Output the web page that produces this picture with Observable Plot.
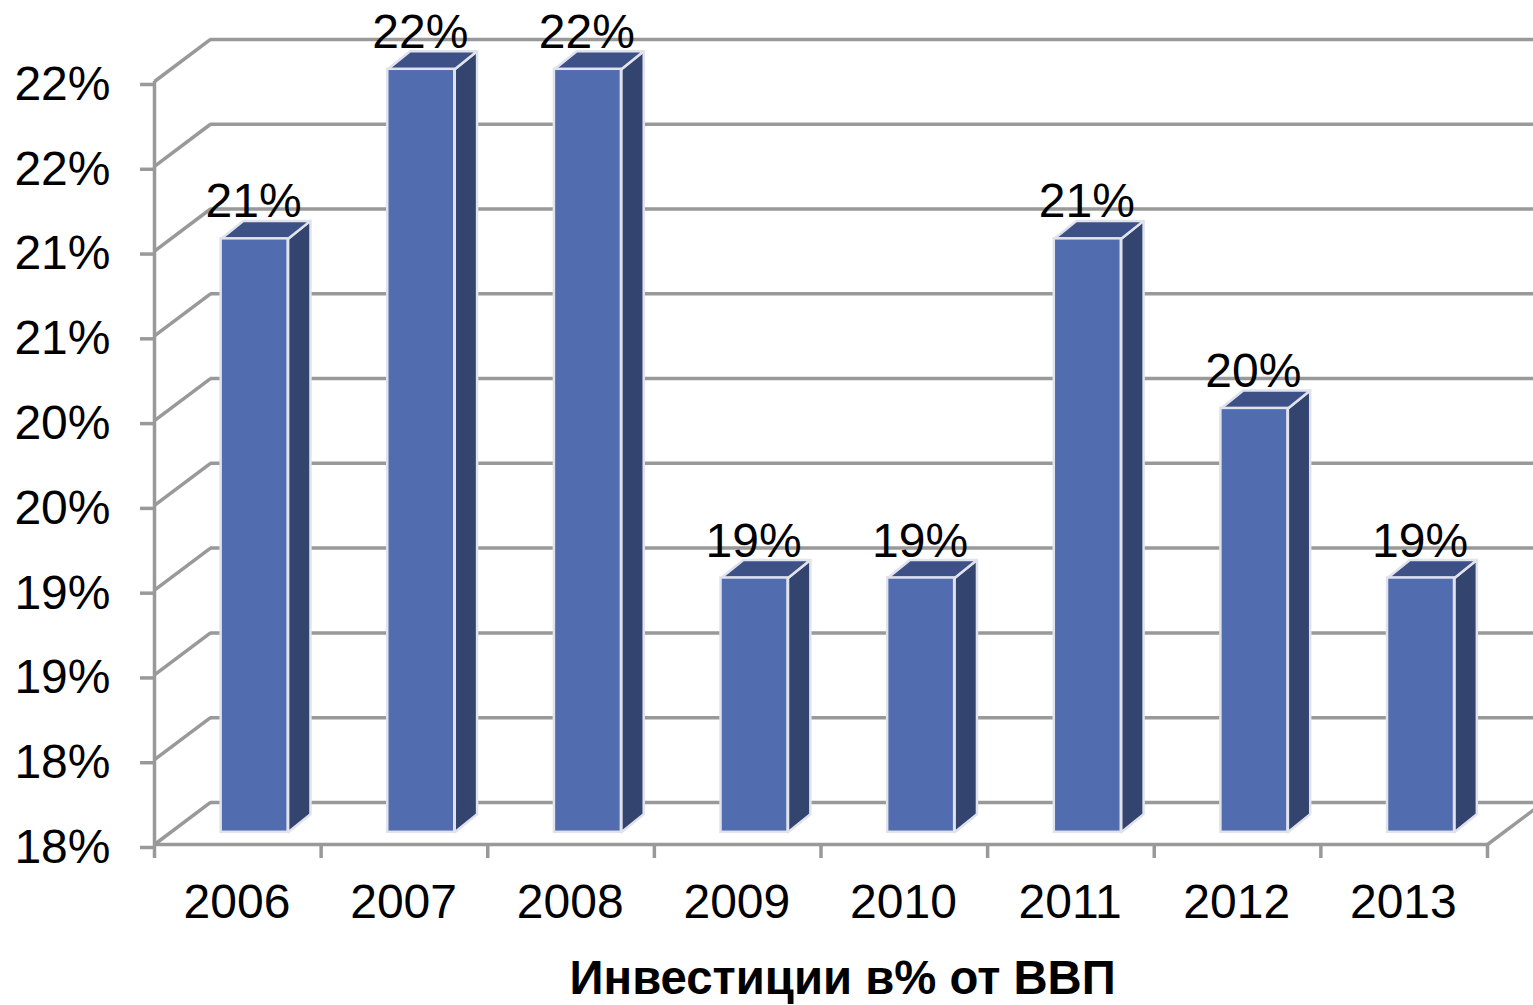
<!DOCTYPE html>
<html lang="ru">
<head>
<meta charset="utf-8">
<title>Инвестиции в% от ВВП</title>
<script src="https://cdn.jsdelivr.net/npm/d3@7"></script>
<script src="https://cdn.jsdelivr.net/npm/@observablehq/plot@0.6"></script>
<style>
  html, body { margin: 0; padding: 0; background: #fff; overflow: hidden; }
  svg { display: block; }
</style>
</head>
<body>
<div id="chart"></div>
<script>
const years = ["2006","2007","2008","2009","2010","2011","2012","2013"];
const values = [21, 22, 22, 19, 19, 21, 20, 19];
const valueLabels = ["21%","22%","22%","19%","19%","21%","20%","19%"];
const yTicks = [17.5, 18, 18.5, 19, 19.5, 20, 20.5, 21, 21.5, 22];
const yTickLabels = ["18%","18%","19%","19%","20%","20%","21%","21%","22%","22%"];
const axisTitle = "Инвестиции в% от ВВП";

const yBase = 17.5;
// Pseudo-3D depth, in data units of the two scales
const wallDX = 0.336, wallDY = 0.248;
const barStart = 0.4, barWidth = 0.402, barLift = 0.072, sideDX = 0.134, sideDY = 0.106;

const bars = years.map((year, i) => ({
  i, year, value: values[i], label: valueLabels[i],
  x1: i + barStart, x2: i + barStart + barWidth,
  y1: yBase + barLift, y2: values[i] + barLift
}));
const faces = bars.flatMap(b => [
  [["side", b.i], [b.x2, b.y1], [b.x2 + sideDX, b.y1 + sideDY], [b.x2 + sideDX, b.y2 + sideDY], [b.x2, b.y2], [b.x2, b.y1]],
  [["top", b.i], [b.x1, b.y2], [b.x1 + sideDX, b.y2 + sideDY], [b.x2 + sideDX, b.y2 + sideDY], [b.x2, b.y2], [b.x1, b.y2]]
].flatMap(([[kind, i], ...pts]) => pts.map(([x, y]) => ({kind, id: kind + i, x, y}))));

const grey = "#999999";
const edge = "#e0e3ec";
const fontFamily = "'Liberation Sans', Arial, sans-serif";

const chart = Plot.plot({
  width: 1533,
  height: 1005,
  marginLeft: 154,
  marginRight: 46,
  marginTop: 81,
  marginBottom: 161,
  style: {fontFamily, background: "#fff", color: "#000"},
  x: {domain: [0, years.length], axis: null},
  y: {domain: [yBase, 22], axis: null},
  marks: [
    // back wall gridlines
    Plot.ruleY(yTicks, {y: d => d + wallDY, x1: wallDX, x2: years.length + wallDX, stroke: grey, strokeWidth: 3.5}),
    // side wall and floor diagonals
    Plot.link(yTicks, {x1: 0, x2: wallDX, y1: d => d, y2: d => d + wallDY, stroke: grey, strokeWidth: 3.5}),
    Plot.link([yBase], {x1: years.length, x2: years.length + wallDX, y1: d => d, y2: d => d + wallDY, stroke: grey, strokeWidth: 3.5}),
    // front axis lines
    Plot.ruleX([0], {y1: yBase, y2: 22, stroke: grey, strokeWidth: 3.5}),
    Plot.ruleY([yBase], {x1: 0, x2: years.length, stroke: grey, strokeWidth: 3.5}),
    // axis ticks and labels
    Plot.axisY({
      ticks: yTicks, tickSize: 14, tickPadding: 30, stroke: grey, strokeWidth: 3.5, fill: "#000",
      tickFormat: d => yTickLabels[yTicks.indexOf(d)], fontSize: 48, label: null, dy: 3
    }),
    Plot.axisX({
      ticks: d3.range(0, years.length + 1), tickSize: 14, stroke: grey, strokeWidth: 3.5,
      tickFormat: () => "", label: null
    }),
    Plot.text(years, {
      x: (d, i) => i + 0.495, y: yBase, text: d => d, dy: 58,
      fontSize: 48, fill: "#000", lineAnchor: "middle"
    }),
    // bars
    Plot.line(faces.filter(f => f.kind === "side"), {x: "x", y: "y", z: "id", fill: "#33446f", stroke: edge, strokeWidth: 2.5, curve: "linear"}),
    Plot.line(faces.filter(f => f.kind === "top"), {x: "x", y: "y", z: "id", fill: "#3d5186", stroke: edge, strokeWidth: 2.5, curve: "linear"}),
    Plot.rect(bars, {x1: "x1", x2: "x2", y1: "y1", y2: "y2", fill: "#526cb0", stroke: edge, strokeWidth: 2.5}),
    // value labels
    Plot.text(bars, {
      x: d => d.i + 0.595, y: "value", text: "label", dy: -49,
      fontSize: 48, fill: "#000", lineAnchor: "middle"
    }),
    // axis title
    Plot.text([axisTitle], {
      x: 4.13, y: yBase, dy: 134, text: d => d,
      fontSize: 47.3, fontWeight: "bold", fill: "#000", lineAnchor: "middle"
    })
  ]
});
document.getElementById("chart").appendChild(chart);
</script>
</body>
</html>
